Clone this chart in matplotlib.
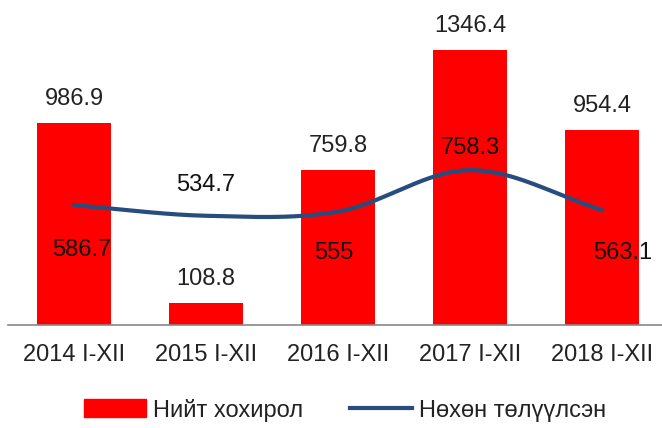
import numpy as np
import matplotlib
matplotlib.use("Agg")
import matplotlib.pyplot as plt
from matplotlib.lines import Line2D
from matplotlib.patches import Patch

categories = ["2014 I-XII", "2015 I-XII", "2016 I-XII", "2017 I-XII", "2018 I-XII"]
total_loss = [986.9, 108.8, 759.8, 1346.4, 954.4]
recovered = [586.7, 534.7, 555, 758.3, 563.1]
series_names = ["Нийт хохирол", "Нөхөн төлүүлсэн"]

# label offsets in pixels (style only)
line_label_dx = [8, 0, -4, 0, 21]
line_label_dy = [-45, 31, -41, 22, -43]

plt.rcParams['font.family'] = ['Liberation Sans Narrow', 'Liberation Sans', 'DejaVu Sans']

W, H = 662, 428
fig = plt.figure(figsize=(W / 100, H / 100), dpi=100)
base_y = 325
left_px, right_px = 8, 668
ax = fig.add_axes([left_px / W, (H - base_y) / H, (right_px - left_px) / W, base_y / H])

x = np.arange(len(categories))
ax.bar(x, total_loss, width=0.56, color="#FF0000", zorder=2)

# smooth line (Catmull-Rom through the data points)
def catmull(xs, ys, n=40):
    px = np.concatenate([[2 * xs[0] - xs[1]], xs, [2 * xs[-1] - xs[-2]]])
    py = np.concatenate([[2 * ys[0] - ys[1]], ys, [2 * ys[-1] - ys[-2]]])
    outx, outy = [], []
    for i in range(1, len(px) - 2):
        t = np.linspace(0, 1, n)
        for arr, out in ((px, outx), (py, outy)):
            p0, p1, p2, p3 = arr[i - 1], arr[i], arr[i + 1], arr[i + 2]
            out.extend(0.5 * ((2 * p1) + (-p0 + p2) * t + (2 * p0 - 5 * p1 + 4 * p2 - p3) * t ** 2
                              + (-p0 + 3 * p1 - 3 * p2 + p3) * t ** 3))
    return np.array(outx), np.array(outy)

sx, sy = catmull(x.astype(float), np.array(recovered, dtype=float))
ax.plot(sx, sy, color="#264D7E", lw=3.0, solid_capstyle="round", zorder=3)

ax.set_xlim(-0.5, 4.5)
ax.set_ylim(0, 1591)

for xi, v in zip(x, total_loss):
    ax.annotate(f"{v:g}", (xi, v), xytext=(0, 24), textcoords="offset pixels",
                ha="center", va="center", fontsize=17, color="#222222", zorder=4)
for xi, v, dx, dy in zip(x, recovered, line_label_dx, line_label_dy):
    ax.annotate(f"{v:g}", (xi, v), xytext=(dx, dy), textcoords="offset pixels",
                ha="center", va="center", fontsize=17, color="#111111", zorder=4,
                annotation_clip=False)

ax.set_yticks([])
ax.set_xticks(x)
ax.set_xticklabels(categories, fontsize=17, color="#222222")
ax.tick_params(axis="x", length=0, pad=14)
for s in ["top", "right", "left"]:
    ax.spines[s].set_visible(False)
ax.spines["bottom"].set_color("#888888")
ax.spines["bottom"].set_linewidth(1.2)

handles = [Patch(color="#FF0000", label=series_names[0]),
           Line2D([0], [0], color="#264D7E", lw=3.0, label=series_names[1])]
fig.legend(handles=handles, loc="center", bbox_to_anchor=(345 / W, 1 - 410 / H),
           ncol=2, frameon=False, fontsize=17, handlelength=2.6, handleheight=0.8,
           columnspacing=2.0, handletextpad=0.3, labelcolor="#222222")

fig.savefig("out.png", dpi=100)
